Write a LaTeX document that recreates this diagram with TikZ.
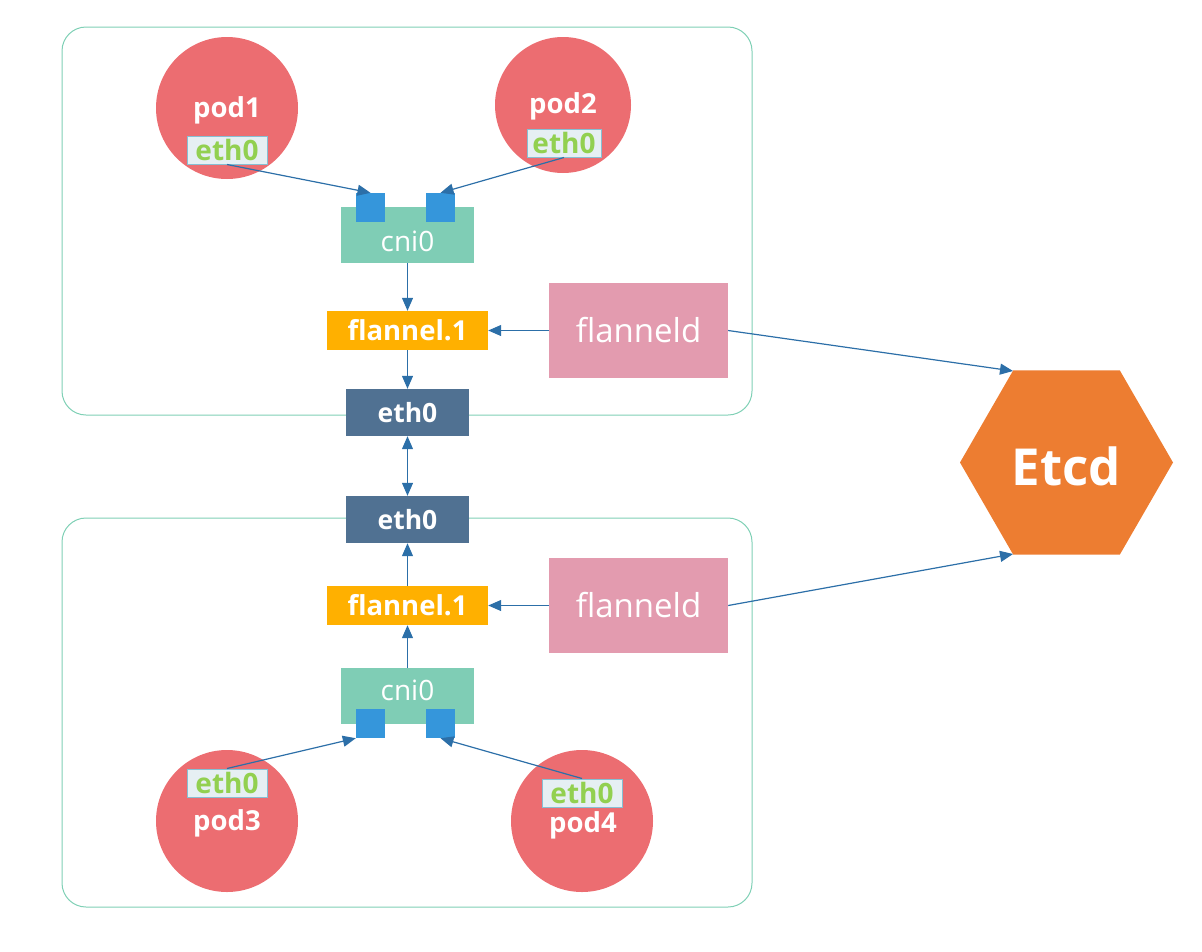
\documentclass[tikz,border=0pt]{standalone}
\usepackage{fontspec}
\setmainfont{Open Sans}
\usetikzlibrary{shapes.geometric,arrows.meta}
\definecolor{podred}{HTML}{EC6D71}
\definecolor{ethbg}{HTML}{E6EFF3}
\definecolor{ethbd}{HTML}{86BFD3}
\definecolor{ethgreen}{HTML}{92D050}
\definecolor{cnigreen}{HTML}{7FCDB5}
\definecolor{portblue}{HTML}{3596DB}
\definecolor{flanorange}{HTML}{FFB000}
\definecolor{flanpink}{HTML}{E39BAF}
\definecolor{nicblue}{HTML}{507192}
\definecolor{etcdorange}{HTML}{ED7D31}
\definecolor{arrowblue}{HTML}{2C6FA8}
\definecolor{frame}{HTML}{7FD0B5}
\newcommand{\fsz}[1]{\fontsize{#1}{#1}\selectfont}
\tikzset{
  container/.style={draw=frame, line width=1pt, rounded corners=24pt},
  pod/.style={circle, fill=podred, minimum size=#1, inner sep=0pt},
  podlabel/.style={text=white, font=\bfseries\fsz{27.5}, inner sep=0pt},
  podeth/.style={draw=ethbd, fill=ethbg, line width=1pt, minimum width=80pt, minimum height=28pt, inner sep=0pt, text=ethgreen, font=\bfseries\fsz{28}},
  cnibox/.style={fill=cnigreen, minimum width=133pt, minimum height=56pt, inner sep=0pt, text=white, font=\fsz{28}},
  port/.style={fill=portblue, minimum size=29pt, inner sep=0pt},
  flanbox/.style={fill=flanorange, minimum width=161pt, minimum height=39pt, inner sep=0pt, text=white, font=\bfseries\fsz{27.5}},
  flandbox/.style={fill=flanpink, minimum width=179pt, minimum height=95pt, inner sep=0pt, text=white, font=\fsz{33}},
  nicbox/.style={fill=nicblue, minimum width=123pt, minimum height=47pt, inner sep=0pt, text=white, font=\bfseries\fsz{26.5}},
  link/.style={draw=arrowblue, line width=1.2pt, -{Triangle[length=13pt,width=11pt]}},
  dlink/.style={draw=arrowblue, line width=1.2pt, {Triangle[length=13pt,width=11pt]}-{Triangle[length=13pt,width=11pt]}}
}
\begin{document}
\begin{tikzpicture}[x=1pt,y=-1pt]
\useasboundingbox (0,0) rectangle (1202,951);
% containers
\draw[container] (62,27) rectangle (752,415);
\draw[container] (62,518) rectangle (752,907);

% top host
\node[pod=142pt] (pod1) at (227,108) {};
\node[podlabel] (pod1t) at (227,110) {pod1};
\node[podeth] (pod1e) at (227,150) {eth0};
\node[pod=136pt] (pod2) at (563,105) {};
\node[podlabel] (pod2t) at (563,106) {pod2};
\node[podeth, minimum width=74pt] (pod2e) at (564,143) {eth0};
\node[cnibox] (cni1) at (407.5,235) {};
\node[text=white, font=\fsz{28}, inner sep=0pt] (cni1t) at (407.5,241) {cni0};
\node[port] (p1) at (370.5,207.5) {};
\node[port] (p2) at (440.5,207.5) {};
\node[flanbox] (fl1) at (407.5,330.5) {flannel.1};
\node[flandbox] (fd1) at (638.5,330.5) {flanneld};
\node[nicbox] (eth1) at (407.5,412.5) {eth0};

% bottom host
\node[nicbox] (eth2) at (407.5,519.5) {eth0};
\node[flanbox] (fl2) at (407.5,605.5) {flannel.1};
\node[flandbox] (fd2) at (638.5,605.5) {flanneld};
\node[cnibox] (cni2) at (407.5,696) {};
\node[text=white, font=\fsz{28}, inner sep=0pt] (cni2t) at (407.5,690) {cni0};
\node[port] (p3) at (370.5,723.5) {};
\node[port] (p4) at (440.5,723.5) {};
\node[pod=142pt] (pod3) at (227,821) {};
\node[podlabel] (pod3t) at (227,823) {pod3};
\node[podeth] (pod3e) at (227,783) {eth0};
\node[pod=142pt] (pod4) at (582,821) {};
\node[podlabel] (pod4t) at (583,825) {pod4};
\node[podeth] (pod4e) at (582,793) {eth0};

% etcd
\node[regular polygon, regular polygon sides=6, fill=etcdorange, minimum size=213pt, inner sep=0pt] (etcd) at (1066.5,462.5) {};
\node[text=white, font=\bfseries\fsz{51}, inner sep=0pt] (etcdt) at (1066.5,466) {Etcd};
\coordinate (etcdtl) at (1013,371);
\coordinate (etcdbl) at (1013,554);

% connectors top
\draw[link] (pod1e.south) -- (p1.north);
\draw[link] (pod2e.south) -- (p2.north);
\draw[link] (cni1.south) -- (fl1.north);
\draw[link] (fd1.west) -- (fl1.east);
\draw[link] (fl1.south) -- (eth1.north);
\draw[link] (fd1.east) -- (etcdtl);
% middle
\draw[dlink] (eth1.south) -- (eth2.north);
% connectors bottom
\draw[link] (pod3e.north) -- (p3.south west);
\draw[link] (pod4e.north) -- (p4.south);
\draw[link] (cni2.north) -- (fl2.south);
\draw[link] (fd2.west) -- (fl2.east);
\draw[link] (fl2.north) -- (eth2.south);
\draw[link] (fd2.east) -- (etcdbl);
\end{tikzpicture}
\end{document}
